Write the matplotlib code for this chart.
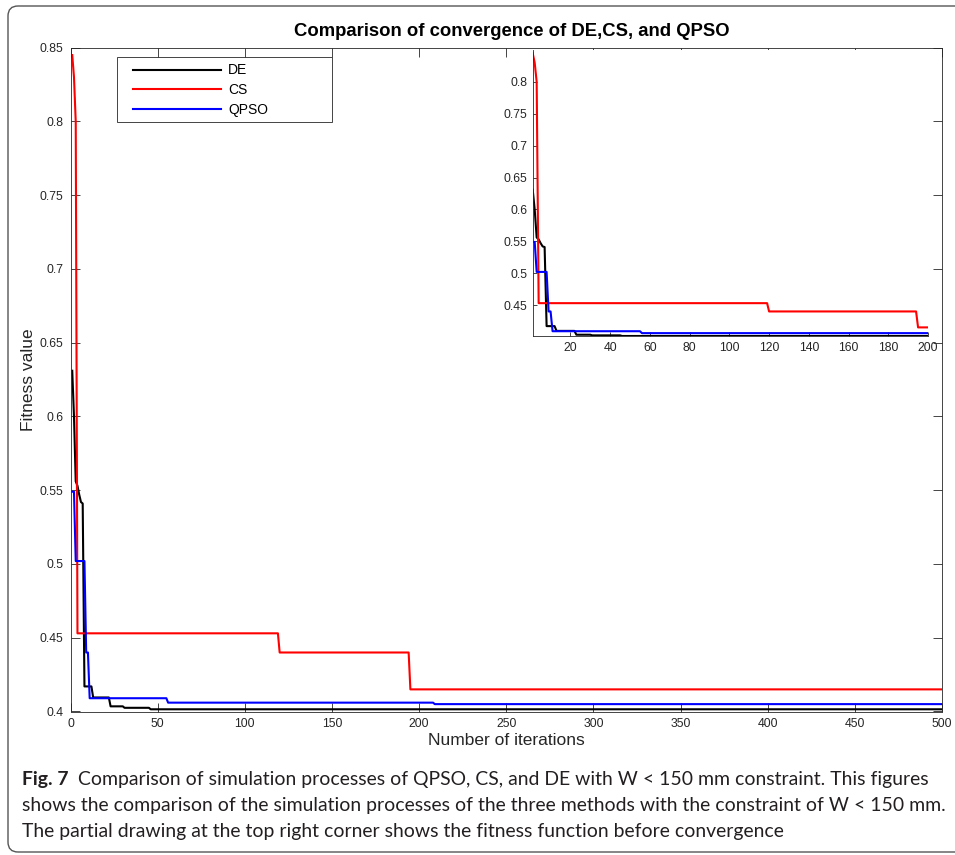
import matplotlib
matplotlib.use("Agg")
import matplotlib.pyplot as plt
from matplotlib.patches import FancyBboxPatch, Rectangle
from matplotlib.ticker import FormatStrFormatter
from matplotlib.transforms import IdentityTransform

# convergence curves: (iteration, fitness) at the points where each curve changes
de_iter = [1, 2, 3, 4, 5, 6, 7, 8, 12, 13, 22, 23, 30, 31, 45, 46, 500]
de_fit = [0.631, 0.600, 0.556, 0.553, 0.547, 0.542, 0.541, 0.417, 0.417, 0.4095,
          0.4095, 0.4035, 0.4035, 0.4025, 0.4025, 0.4015, 0.4015]
cs_iter = [1, 2, 3, 4, 119, 120, 194, 195, 500]
cs_fit = [0.845, 0.830, 0.800, 0.453, 0.453, 0.440, 0.440, 0.415, 0.415]
qpso_iter = [1, 2, 3, 8, 9, 10, 11, 55, 56, 208, 209, 500]
qpso_fit = [0.549, 0.549, 0.502, 0.502, 0.440, 0.440, 0.409, 0.409, 0.406, 0.406,
            0.405, 0.405]

main_xticks = list(range(0, 501, 50))
main_yticks = [0.4, 0.45, 0.5, 0.55, 0.6, 0.65, 0.7, 0.75, 0.8, 0.85]
inset_xticks = list(range(20, 201, 20))
inset_yticks = [0.45, 0.5, 0.55, 0.6, 0.65, 0.7, 0.75, 0.8]

title = "Comparison of convergence of DE,CS, and QPSO"
cap_bold = "Fig. 7"
cap_lines = [
    "Comparison of simulation processes of QPSO, CS, and DE with W < 150 mm constraint. This figures",
    "shows the comparison of the simulation processes of the three methods with the constraint of W < 150 mm.",
    "The partial drawing at the top right corner shows the fitness function before convergence",
]

plt.rcParams['font.family'] = ['Liberation Sans', 'DejaVu Sans']
W, H = 955, 855
fig = plt.figure(figsize=(W / 100, H / 100), dpi=100)

def fx(px):
    return px / W

def fy(py):
    return 1 - py / H

axc = '#262626'
series = [(de_iter, de_fit, 'black', 'DE'),
          (cs_iter, cs_fit, '#ff0000', 'CS'),
          (qpso_iter, qpso_fit, '#0000ff', 'QPSO')]

# main axes
ax = fig.add_axes([fx(70.5), fy(711.5), fx(942) - fx(70.5), fy(47.7) - fy(711.5)])
for xs, ys, c, lab in series:
    ax.plot(xs, ys, color=c, lw=1.5, label=lab)
ax.set_xlim(0, 500)
ax.set_ylim(0.4, 0.85)
ax.set_xticks(main_xticks)
ax.set_yticks(main_yticks)
ax.yaxis.set_major_formatter(FormatStrFormatter('%g'))
ax.tick_params(direction='in', top=True, right=True, length=6.5, width=0.6,
               color=axc, labelcolor=axc, labelsize=8.8)
ax.tick_params(axis='y', pad=5)
ax.tick_params(axis='x', pad=5)
for s in ax.spines.values():
    s.set_color(axc)
    s.set_linewidth(0.6)
ax.set_xlabel("Number of iterations", fontsize=12.5, color=axc, labelpad=2)
ax.set_ylabel("Fitness value", fontsize=12.5, color=axc, labelpad=3)

leg = ax.legend(loc='upper left', bbox_to_anchor=(fx(133), fy(63.5)),
                bbox_transform=fig.transFigure, borderaxespad=0, borderpad=0, fontsize=10,
                handlelength=6.3, handletextpad=0.55, labelspacing=0.4, frameon=False)
fig.add_artist(Rectangle((fx(117.3), fy(121.7)), fx(331.7) - fx(117.3), fy(57.3) - fy(121.7),
                         transform=fig.transFigure, fill=False, ec=axc, lw=0.6))

# inset with the first 200 iterations
axi = fig.add_axes([fx(532.7), fy(336), fx(928) - fx(532.7), fy(50) - fy(336)])
axi.set_zorder(3)
for xs, ys, c, lab in series:
    axi.plot(xs, ys, color=c, lw=1.5)
axi.set_xlim(1, 200)
axi.set_ylim(0.4015, 0.85)
axi.set_xticks(inset_xticks)
axi.set_yticks(inset_yticks)
axi.yaxis.set_major_formatter(FormatStrFormatter('%g'))
axi.spines['top'].set_visible(False)
axi.spines['right'].set_visible(False)
for s in ('left', 'bottom'):
    axi.spines[s].set_color(axc)
    axi.spines[s].set_linewidth(0.6)
axi.tick_params(direction='in', length=3, width=0.6, color=axc, labelcolor=axc,
                labelsize=8.8, pad=4)

fig.text(fx(512), fy(32), title, ha='center', va='center', fontsize=13.3,
         fontweight='bold', color='black')

# caption box around the whole figure
frame = FancyBboxPatch((8, H - 852), 980, 846, boxstyle="round,pad=0,rounding_size=10",
                       transform=IdentityTransform(), fill=False, ec='#555555', lw=1.0)
fig.patches.append(frame)

# caption, sized so the second line spans the same width as in the original
cap_font = 'Lato'
renderer = fig.canvas.get_renderer()
probe = fig.text(0, 0, cap_lines[1], fontsize=13, family=cap_font)
wpx = probe.get_window_extent(renderer).width
probe.remove()
cap_size = 13 * 922 / wpx

baselines = [785, 811, 837]
kw = dict(fontsize=cap_size, family=cap_font, va='baseline', color='#231f20')
fb = fig.text(fx(22), fy(baselines[0]), cap_bold, fontweight='bold', **kw)
bx = fb.get_window_extent(renderer).x1
fig.text((bx + 9) / W, fy(baselines[0]), cap_lines[0], **kw)
for line, b in zip(cap_lines[1:], baselines[1:]):
    fig.text(fx(22), fy(b), line, **kw)

fig.savefig("out.png", dpi=100)
